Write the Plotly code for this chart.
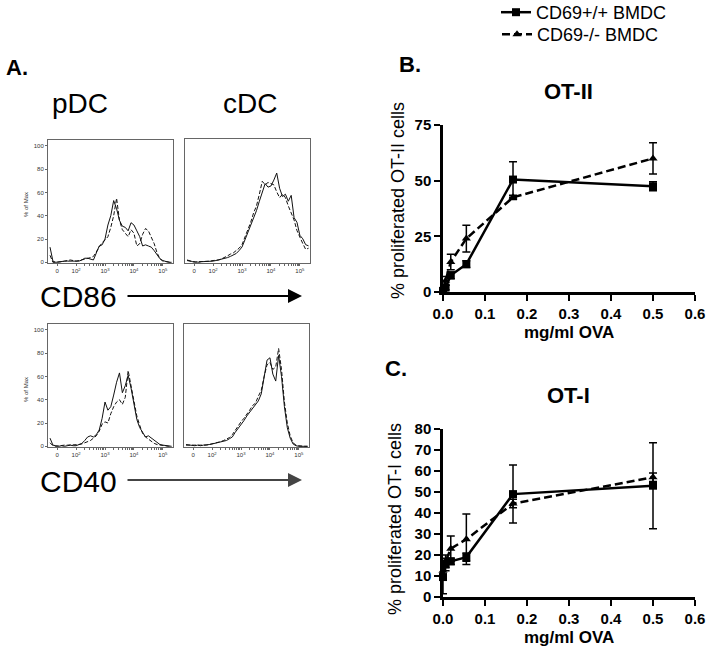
import numpy as np
import plotly.graph_objects as go

W, H = 709, 654
FONT = "Liberation Sans, Arial, sans-serif"

# ---------------- data ----------------
# Flow histograms: channel position in decades (display units), % of max
hist_x = [1.1, 1.2, 1.3, 1.4, 1.5, 1.6, 1.7, 1.8, 1.9, 2.0, 2.1, 2.2, 2.3, 2.4, 2.5,
          2.6, 2.7, 2.8, 2.9, 3.0, 3.1, 3.2, 3.3, 3.4, 3.5, 3.6, 3.7, 3.8, 3.9, 4.0,
          4.1, 4.2, 4.3, 4.4, 4.5, 4.6, 4.7, 4.8, 4.9, 5.0, 5.1, 5.2, 5.3]
pdc_cd86_wt = [13, 1, 0, 0.5, 0.5, 1, 1, 1, 0.5, 0.5, 1, 2, 3.5, 3.5, 2.5, 2, 8, 14, 15, 20,
               32, 40, 53, 46, 36, 31, 30, 27, 34, 32, 27, 22, 14, 15, 14, 13, 10, 7, 3, 1.5,
               0.5, 0, 0]
pdc_cd86_ko = [6, 0, 0, 0, 0.5, 1, 1.5, 2, 1.5, 1, 1.5, 2, 2.5, 3, 4, 5, 9, 13, 17, 19,
               22, 30, 40, 55, 36, 28, 25, 22, 28, 25, 14, 16, 24, 29, 27, 22, 16, 8, 3, 1,
               0.5, 0, 0]
cdc_cd86_wt = [2, 1, 0.5, 0.5, 0, 0.5, 0.5, 0.5, 1, 1, 1.5, 2, 2.5, 3.5, 4, 5, 6, 7.5, 10, 13,
               19, 25, 31, 38, 44, 52, 59, 67, 64, 65, 70, 76, 63, 56, 58, 52, 57, 38, 34, 23,
               20, 15, 14]
cdc_cd86_ko = [1.5, 1, 0.5, 0, 0.5, 0.5, 1, 1, 1, 1.5, 1.5, 2, 3, 4, 5.5, 7, 8, 10, 12, 15,
               21, 27, 34, 42, 48, 58, 69, 66, 68, 67, 66, 60, 55, 58, 55, 48, 42, 36, 27, 21,
               16, 11, 12]
pdc_cd40_wt = [7, 1, 0.5, 0, 0.5, 0, 0.5, 1, 0.5, 0.5, 1.5, 2.5, 5, 8, 9, 8, 10, 14, 24, 38,
               31, 34, 44, 55, 63, 46, 52, 61, 50, 35, 23, 16, 12, 8, 9, 7, 5, 3, 1.5, 1,
               0.5, 0, 0]
pdc_cd40_ko = [3, 0.5, 0, 0.5, 0.5, 1, 1, 1, 1, 1, 1.5, 2, 3, 4, 5, 7, 9, 13, 19, 21,
               20, 28, 34, 38, 40, 36, 42, 65, 52, 36, 26, 18, 11, 8, 6, 4, 2.5, 1.5, 1, 1,
               0.5, 0, 0]
cdc_cd40_wt = [1.5, 1, 0.5, 0.5, 1, 0.5, 1, 1, 1.5, 2, 2.5, 3, 3.5, 4, 5, 6.5, 8, 12, 15, 18,
               22, 26, 29, 32, 35, 39, 45, 58, 74, 76, 62, 56, 78, 60, 34, 16, 7, 2, 0.5, 0,
               0, 0, 0]
cdc_cd40_ko = [1, 1, 1, 0.5, 0.5, 1, 1, 1, 1.5, 2, 2.5, 3, 4, 5, 6, 7.5, 10, 14, 18, 21,
               24, 27, 31, 35, 37, 43, 48, 60, 70, 72, 66, 68, 84, 66, 38, 20, 9, 3, 1, 0.5,
               0, 0, 0]
hist_tick_pos = [1.35, 2, 3, 4, 5]
hist_tick_text = ["0", "10<sup>2</sup>", "10<sup>3</sup>", "10<sup>4</sup>", "10<sup>5</sup>"]

# Proliferation (mg/ml OVA)
ova_conc = [0.0, 0.0062, 0.0185, 0.0556, 0.1667, 0.5]
otii_wt = [0.5, 2, 7.5, 12.5, 50.5, 47.5]
otii_wt_err = [0.5, 1, 1.5, 1.5, 8, 2]
otii_ko = [1, 5, 13.5, 24, 42.5, 60]
otii_ko_err = [1, 2, 3.5, 6, 1, 7]
oti_wt = [9.5, 15.5, 17, 19, 49, 53]
oti_wt_err = [8, 3, 1.5, 2, 13.8, 20.5]
oti_ko = [12.5, 17, 23, 27.5, 44.5, 57]
oti_ko_err = [4, 3, 6, 12, 2, 2]
series_names = ["CD69+/+ BMDC", "CD69-/- BMDC"]


def dom_x(a, b):
    return [a / W, b / W]


def dom_y(top, bottom):
    return [1 - bottom / H, 1 - top / H]


fig = go.Figure()

# ---------------- histograms ----------------
hists = [
    ("1", pdc_cd86_wt, pdc_cd86_ko),
    ("2", cdc_cd86_wt, cdc_cd86_ko),
    ("3", pdc_cd40_wt, pdc_cd40_ko),
    ("4", cdc_cd40_wt, cdc_cd40_ko),
]
for ax, wt, ko in hists:
    xa = "x" if ax == "1" else "x" + ax
    ya = "y" if ax == "1" else "y" + ax
    fig.add_trace(go.Scatter(x=hist_x, y=wt, mode="lines", xaxis=xa, yaxis=ya,
                             line=dict(color="#111", width=1), showlegend=False))
    fig.add_trace(go.Scatter(x=hist_x, y=ko, mode="lines", xaxis=xa, yaxis=ya,
                             line=dict(color="#111", width=1, dash="4px,2px"), showlegend=False))

# ---------------- proliferation ----------------
def add_pair(xa, ya, wt, wt_err, ko, ko_err, show):
    fig.add_trace(go.Scatter(
        x=ova_conc, y=wt, mode="lines+markers", xaxis=xa, yaxis=ya, name=series_names[0],
        line=dict(color="black", width=2.5),
        marker=dict(symbol="square", size=8, color="black"),
        error_y=dict(type="data", array=wt_err, color="black", thickness=1.5, width=4),
        cliponaxis=False, showlegend=show, legend="legend", legendgroup="wt"))
    fig.add_trace(go.Scatter(
        x=ova_conc, y=ko, mode="lines+markers", xaxis=xa, yaxis=ya, name=series_names[1],
        line=dict(color="black", width=2.5, dash="8px,4px"),
        marker=dict(symbol="triangle-up", size=8, color="black"),
        error_y=dict(type="data", array=ko_err, color="black", thickness=1.5, width=4),
        cliponaxis=False, showlegend=show, legend="legend2", legendgroup="ko"))


add_pair("x5", "y5", otii_wt, otii_wt_err, otii_ko, otii_ko_err, True)
add_pair("x6", "y6", oti_wt, oti_wt_err, oti_ko, oti_ko_err, False)

# ---------------- axes ----------------
minor_vals = [d + np.log10(k) for d in (2, 3, 4) for k in range(2, 10)]


def hist_xaxis(x0, x1, anchor):
    return dict(domain=dom_x(x0, x1), anchor=anchor, range=[1.03, 5.35],
                showline=True, mirror=True, linecolor="#666", linewidth=1,
                ticks="outside", ticklen=2, tickcolor="#666", tickwidth=1,
                tickvals=hist_tick_pos, ticktext=hist_tick_text,
                tickfont=dict(size=6, color="#333", family=FONT),
                minor=dict(tickvals=minor_vals, ticks="outside", ticklen=1.5, tickcolor="#666"),
                showgrid=False, zeroline=False, fixedrange=True)


def hist_yaxis(top, bottom, anchor, labels):
    d = dict(domain=dom_y(top, bottom), anchor=anchor, range=[-0.6, 105],
             showline=True, mirror=True, linecolor="#666", linewidth=1,
             showgrid=False, zeroline=False)
    if labels:
        d.update(ticks="outside", ticklen=2, tickcolor="#666", tickvals=[0, 20, 40, 60, 80, 100],
                 tickfont=dict(size=6, color="#333", family=FONT))
    else:
        d.update(ticks="", showticklabels=False)
    return d


def prolif_axes(top, bottom, yanchor, xanchor, yrange, ytickvals):
    xa = dict(domain=dom_x(443, 695), anchor=yanchor, range=[0, 0.6], tickvals=[0, 0.1, 0.2, 0.3, 0.4, 0.5, 0.6],
              tickformat=".1f", showline=True, linewidth=2.5, linecolor="black",
              ticks="outside", ticklen=6, tickwidth=2, tickcolor="black",
              tickfont=dict(size=15, color="black", family=FONT, weight="bold"),
              ticklabeloverflow="allow", showgrid=False, zeroline=False)
    ya = dict(domain=dom_y(top, bottom), anchor=xanchor, range=yrange, tickvals=ytickvals,
              showline=True, linewidth=2.5, linecolor="black",
              ticks="outside", ticklen=6, tickwidth=2, tickcolor="black",
              tickfont=dict(size=15, color="black", family=FONT, weight="bold"),
              ticklabeloverflow="allow", showgrid=False, zeroline=False)
    return xa, ya


x5, y5 = prolif_axes(125, 292, "y5", "x5", [0, 75], [0, 25, 50, 75])
x6, y6 = prolif_axes(429, 597, "y6", "x6", [0, 80], [0, 10, 20, 30, 40, 50, 60, 70, 80])

legend_style = dict(xanchor="left", yanchor="top",
                    font=dict(size=18, family=FONT, color="black"),
                    bgcolor="rgba(0,0,0,0)", itemwidth=30, tracegroupgap=0)

fig.update_layout(
    width=W, height=H, margin=dict(l=0, r=0, t=0, b=0, autoexpand=False),
    paper_bgcolor="white", plot_bgcolor="white",
    font=dict(family=FONT, color="black"),
    xaxis=hist_xaxis(48, 173, "y"), yaxis=hist_yaxis(140, 263, "x", True),
    xaxis2=hist_xaxis(185, 310, "y2"), yaxis2=hist_yaxis(139, 263, "x2", False),
    xaxis3=hist_xaxis(48, 173, "y3"), yaxis3=hist_yaxis(324, 447, "x3", True),
    xaxis4=hist_xaxis(184, 309, "y4"), yaxis4=hist_yaxis(324, 447, "x4", False),
    xaxis5=x5, yaxis5=y5, xaxis6=x6, yaxis6=y6,
    legend=dict(x=496 / W, y=1 + 6 / H, **legend_style),
    legend2=dict(x=497 / W, y=1 - 16 / H, **legend_style),
    showlegend=True,
)


def ann(text, x, y, size, bold=False, angle=0, xanchor="center", color="black"):
    fig.add_annotation(text=text, x=x / W, y=1 - y / H, xref="paper", yref="paper",
                       showarrow=False, xanchor=xanchor, yanchor="middle", textangle=angle,
                       font=dict(size=size, family=FONT, color=color,
                                 weight="bold" if bold else "normal"))


ann("A.", 17, 67, 22, bold=True)
ann("pDC", 80, 103, 28)
ann("cDC", 250, 103, 28)
ann("CD86", 38, 296, 30, xanchor="left")
ann("CD40", 38, 481, 30, xanchor="left")
ann("% of Max", 26, 205, 6, angle=-90, color="#333")
ann("% of Max", 26, 390, 6, angle=-90, color="#333")
ann("B.", 410, 64, 22, bold=True)
ann("OT-II", 568, 92, 22, bold=True)
ann("C.", 396, 369, 22, bold=True)
ann("OT-I", 568, 395, 22, bold=True)
ann("% proliferated OT-II cells", 398, 201, 18, angle=-90)
ann("% proliferated OT-I cells", 395, 519, 18, angle=-90)
ann("mg/ml OVA", 569, 333, 17, bold=True)
ann("mg/ml OVA", 569, 637, 17, bold=True)

# arrows
for yy, col in ((296, "black"), (480, "#444")):
    fig.add_annotation(x=302 / W, y=1 - yy / H, xref="paper", yref="paper", text="",
                       showarrow=True, ax=-176, ay=0, axref="pixel", ayref="pixel",
                       arrowhead=2, arrowsize=1.4, arrowwidth=2, arrowcolor=col)

fig.write_html("out.html", config={"displayModeBar": False},
               post_script="document.body.style.margin='0';document.body.style.overflow='hidden';")
